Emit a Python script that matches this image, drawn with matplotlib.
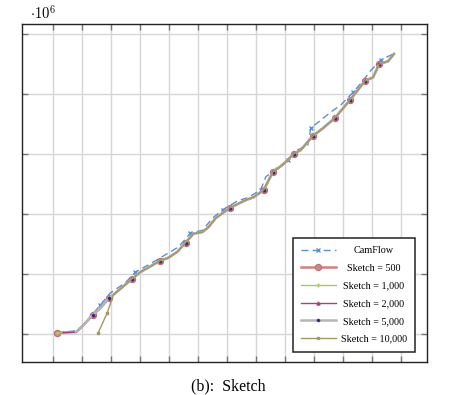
import matplotlib.pyplot as plt
import numpy as np

plt.rcParams['font.family'] = ['Liberation Serif', 'DejaVu Serif']
plt.rcParams['mathtext.fontset'] = 'cm'

# shared sketch trace (x in grid units, y in 1e6)
x_sketch = [0.14, 0.35, 0.80, 1.00, 1.38, 1.63, 1.94, 2.15, 2.49, 2.73, 3.01, 3.70, 3.98,
            4.29, 4.57, 4.84, 5.16, 5.36, 5.61, 6.09, 6.64, 6.92, 7.27, 7.58, 7.92, 8.30,
            8.55, 8.96, 9.31, 9.72, 10.24, 10.52, 10.76, 11.04, 11.25, 11.56, 11.76]
y_sketch = [0.02, 0.02, 0.03, 0.12, 0.32, 0.43, 0.60, 0.68, 0.82, 0.92, 1.03, 1.22, 1.27,
            1.37, 1.52, 1.67, 1.70, 1.78, 1.93, 2.10, 2.23, 2.28, 2.40, 2.70, 2.82, 3.00,
            3.07, 3.30, 3.43, 3.60, 3.90, 4.07, 4.22, 4.28, 4.50, 4.55, 4.67]
mark_idx = [0, 4, 6, 9, 11, 14, 19, 22, 23, 25, 27, 29, 30, 32, 34]

# where each sketch size starts on the shared trace
start_500 = 0
start_1000 = 0
start_2000 = 1
start_5000 = 2
start_10000 = 7
# sketch = 10,000 has its own first points
x_head_10000 = [1.56, 1.87, 2.08]
y_head_10000 = [0.02, 0.35, 0.65]

x_camflow = [0.14, 0.80, 1.11, 1.63, 1.97, 2.49, 2.84, 3.36, 4.33, 4.74, 5.16, 5.50, 5.85,
             6.37, 6.71, 7.16, 7.34, 7.75, 8.10, 8.44, 8.79, 8.89, 9.58, 9.93, 10.35, 10.62,
             10.97, 11.31, 11.73]
y_camflow = [0.02, 0.05, 0.18, 0.48, 0.68, 0.85, 1.03, 1.17, 1.45, 1.68, 1.73, 1.93, 2.07,
             2.22, 2.27, 2.40, 2.62, 2.78, 2.90, 3.07, 3.15, 3.43, 3.70, 3.82, 4.03, 4.18,
             4.40, 4.57, 4.67]

fig = plt.figure(figsize=(4.65, 3.95), dpi=100)
ax = fig.add_axes([22 / 465, 1 - 362 / 395, 405 / 465, 338 / 395])

ax.plot(x_camflow, y_camflow, color='#5b8fd6', lw=1.0, ls=(0, (5, 3)),
        marker='x', ms=2.5, markevery=3, label='CamFlow')


def tail(start):
    marks = [i - start for i in mark_idx if i >= start]
    return x_sketch[start:], y_sketch[start:], marks


xs, ys, mk = tail(start_500)
ax.plot(xs, ys, color='#d47f80', lw=1.8, marker='o', ms=4.5, mfc='#b99088',
        mec='#c86a70', mew=0.8, markevery=mk, label='Sketch = 500')
xs, ys, mk = tail(start_1000)
ax.plot(xs, ys, color='#a9c95b', lw=1.0, marker='+', ms=3, markevery=mk,
        label='Sketch = 1,000')
xs, ys, mk = tail(start_2000)
ax.plot(xs, ys, color='#a3457c', lw=1.0, marker='^', ms=2.2, markevery=mk,
        label='Sketch = 2,000')
xs, ys, mk = tail(start_5000)
ax.plot(xs, ys, color='#b5b5b5', lw=1.8, marker='D', ms=1.3, mfc='#2a2a80', mec='#2a2a80',
        markevery=mk, label='Sketch = 5,000')
x10 = x_head_10000 + x_sketch[start_10000:]
y10 = y_head_10000 + y_sketch[start_10000:]
ax.plot(x10, y10, color='#a09a62', lw=1.0, marker='s', ms=1.6, markevery=[0, 1],
        label='Sketch = 10,000')

ax.set_xlim(-1.07, 12.9)
ax.set_ylim(-0.47, 5.17)
ax.set_xticks(np.arange(0, 13))
ax.set_yticks(np.arange(0, 6))
ax.grid(True, color='#d6d6d6', lw=1.0)
ax.set_axisbelow(True)
ax.tick_params(direction='in', length=4, width=1, color='#777777', top=True, right=True,
               labelbottom=False, labelleft=False)
for s in ax.spines.values():
    s.set_color('#222222')
    s.set_linewidth(1.0)

leg = ax.legend(loc='lower right', bbox_to_anchor=(0.970, 0.030), borderaxespad=0,
                fontsize=7.3, handlelength=3.4, handletextpad=0.5, labelspacing=0.85,
                fancybox=False, framealpha=1, edgecolor='#222222', borderpad=0.8)
leg.get_frame().set_linewidth(1.1)

# centre the legend labels like pgfplots does
renderer = fig.canvas.get_renderer()
widths = [t.get_window_extent(renderer).width for t in leg.get_texts()]
for t, w in zip(leg.get_texts(), widths):
    t.set_x((max(widths) - w) / 2)

fig.text(30 / 465, 1 - 13 / 395, r'$\cdot 10^{6}$', fontsize=10.5, va='center')
fig.text(228 / 465, 1 - 386 / 395, '(b):  Sketch', fontsize=11.5, ha='center', va='center')

fig.savefig('out.png', dpi=100)
